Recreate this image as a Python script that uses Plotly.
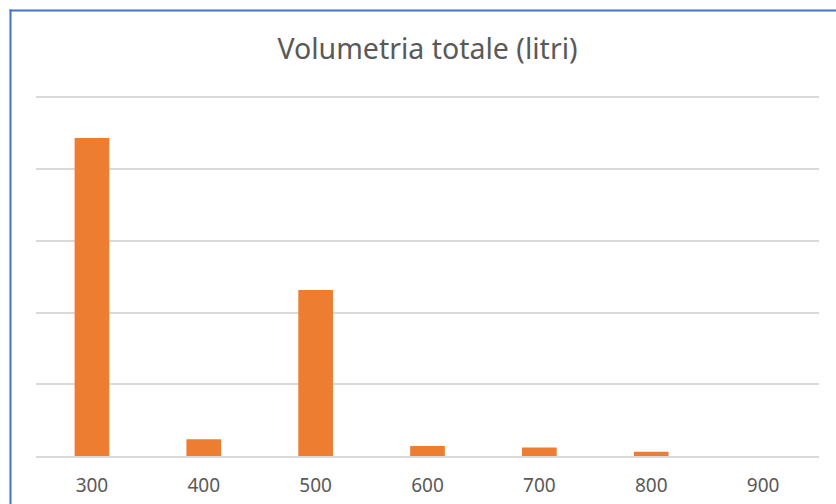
import plotly.graph_objects as go

categories = ["300", "400", "500", "600", "700", "800", "900"]
values = [88.7, 4.7, 46.3, 2.8, 2.4, 1.2, 0]

title_text = "Volumetria totale (litri)"

W, H = 836, 504
ml, mr, mt, mb = 36, 17, 96, 48
pw, ph = W - ml - mr, H - mt - mb

def px_x(x):
    return (x - ml) / pw

def px_y(y):
    return (H - mb - y) / ph

fig = go.Figure(
    go.Bar(
        x=categories,
        y=values,
        marker=dict(color="#ED7D31", line=dict(width=0)),
        width=0.31,
    )
)

fig.update_layout(
    width=W,
    height=H,
    margin=dict(l=ml, r=mr, t=mt, b=mb, autoexpand=False),
    paper_bgcolor="white",
    plot_bgcolor="white",
    showlegend=False,
    title=dict(
        text=title_text,
        x=0.5,
        xref="paper",
        xanchor="center",
        y=1 - 49 / H,
        yanchor="middle",
        font=dict(family="Noto Sans", size=28.5, color="#595959"),
    ),
    xaxis=dict(
        type="category",
        automargin=False,
        showgrid=False,
        showline=True,
        linecolor="#D9D9D9",
        linewidth=1.5,
        ticks="",
        tickfont=dict(family="Noto Sans", size=19, color="#595959"),
        ticklabelstandoff=11,
    ),
    yaxis=dict(
        automargin=False,
        range=[0, 100.4],
        dtick=20,
        showgrid=True,
        gridcolor="#D9D9D9",
        gridwidth=1.5,
        showticklabels=False,
        zeroline=False,
        ticks="",
    ),
    shapes=[
        dict(type="line", xref="paper", yref="paper",
             x0=px_x(9.5), x1=px_x(W + 5), y0=px_y(10.5), y1=px_y(10.5),
             line=dict(color="#4472C4", width=2)),
        dict(type="line", xref="paper", yref="paper",
             x0=px_x(10.5), x1=px_x(10.5), y0=px_y(9.5), y1=px_y(H + 5),
             line=dict(color="#4472C4", width=2)),
    ],
)

fig.write_html(
    "out.html",
    config={"displayModeBar": False},
    post_script="document.body.style.margin='0';document.body.style.overflow='hidden';",
)
